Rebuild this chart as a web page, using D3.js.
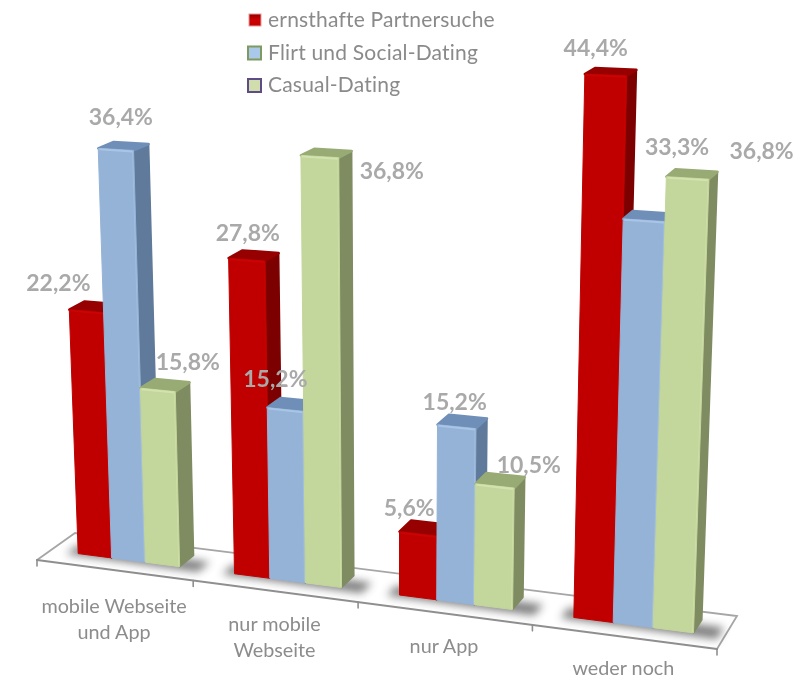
<!DOCTYPE html>
<html><head><meta charset="utf-8">
<script src="https://cdn.jsdelivr.net/npm/d3@7"></script>
<style>html,body{margin:0;padding:0;background:#fff}svg{display:block;filter:blur(.35px)}text{font-family:Lato,"Open Sans",sans-serif}</style>
</head><body><div id="c"></div>
<script>
const categories = [["mobile Webseite","und App"],["nur mobile","Webseite"],["nur App"],["weder noch"]];
const seriesNames = ["ernsthafte Partnersuche","Flirt und Social-Dating","Casual-Dating"];
const partnersuche = [22.2,27.8,5.6,44.4];
const flirt = [36.4,15.2,15.2,33.3];
const casual = [15.8,36.8,10.5,36.8];
const seriesValues = [partnersuche,flirt,casual];

// label nudges relative to each bar's top (as placed in the source chart)
const labelNudge = [
 [[-28,-28],[5,-32],[30,-28]],
 [[1,-27],[-10,-30],[72,14]],
 [[-9,-26],[-2,-25],[34,-21]],
 [[-10,-27],[33,-73],[74,-27]]
];
const categoryNudge = [3,0,0,-2];
const style = [
 {front:"#c00000",side:"#7d0000",top:"#960000",hi:"#c80404",legend:"#c00000",legendBorder:"#e59a9a"},
 {front:"#95b3d7",side:"#5f7a9a",top:"#6f8fb8",hi:"#a9c5e6",legend:"#a9c8ea",legendBorder:"#7f9a5f"},
 {front:"#c3d69b",side:"#7f8c62",top:"#98ab74",hi:"#d3e2ae",legend:"#cfdeac",legendBorder:"#5f4b85"}
];

const W=808,H=680;
const svg=d3.select("#c").append("svg").attr("width",W).attr("height",H);
const defs=svg.append("defs");
defs.append("filter").attr("id","blur").attr("x","-30%").attr("y","-60%").attr("width","160%").attr("height","220%")
  .append("feGaussianBlur").attr("stdDeviation",4.5);
const lg=defs.append("linearGradient").attr("id","lred").attr("x1",0).attr("y1",0).attr("x2",0).attr("y2",1);
lg.append("stop").attr("offset",0).attr("stop-color","#8f0000");
lg.append("stop").attr("offset",.5).attr("stop-color","#d00000");
lg.append("stop").attr("offset",1).attr("stop-color","#c00000");

// floor homography from the four projected corners of the plane
const p0=[37,560],p1=[717,649],p2=[737,616],p3=[75,533];
const dx1=p1[0]-p2[0],dx2=p3[0]-p2[0],sx=p0[0]-p1[0]+p2[0]-p3[0];
const dy1=p1[1]-p2[1],dy2=p3[1]-p2[1],sy=p0[1]-p1[1]+p2[1]-p3[1];
const det=dx1*dy2-dx2*dy1;
const hg=(sx*dy2-dx2*sy)/det,hh=(dx1*sy-sx*dy1)/det;
const A=p1[0]-p0[0]+hg*p1[0],B=p3[0]-p0[0]+hh*p3[0],C=p0[0];
const D=p1[1]-p0[1]+hg*p1[1],E=p3[1]-p0[1]+hh*p3[1],F=p0[1];
const vp=[398,9300];

const xCat=d3.scaleBand().domain(d3.range(categories.length)).range([0,1]);
const xSer=d3.scaleBand().domain(d3.range(seriesNames.length)).range([.18/4,.835/4]);
const yVal=d3.scaleLinear().domain([0,50]).range([0,.0615]);
const depth=d3.scaleLinear().domain([0,1]).range([.36,.76]);

function proj(s,t,v){
  const q=yVal(v||0);
  const X=A*s+B*t+C,Y=D*s+E*t+F,Wh=hg*s+hh*t+1;
  return [(X-q*vp[0])/(Wh-q),(Y-q*vp[1])/(Wh-q)];
}
const poly=d3.line();
const closed=pts=>poly(pts)+"Z";

// floor
svg.append("path").attr("d",closed([proj(0,0),proj(1,0),proj(1,1),proj(0,1)])).attr("fill","#fff").attr("stroke","none");
const floorG=svg.append("g").attr("fill","none").attr("stroke-linecap","round");
floorG.append("path").attr("d",poly([proj(0,0),proj(0,1),proj(1,1),proj(1,0)])).attr("stroke","#a6a6a6").attr("stroke-width",1.8);
floorG.append("path").attr("d",poly([proj(0,0),proj(1,0)])).attr("stroke","#8f8f8f").attr("stroke-width",2);
d3.range(categories.length+1).forEach(i=>{
  const s=i<categories.length?xCat(i):1;
  const p=proj(s,0);
  floorG.append("line").attr("x1",p[0]).attr("y1",p[1]).attr("x2",p[0]).attr("y2",p[1]+6).attr("stroke","#8f8f8f").attr("stroke-width",1.6);
});

// floor shadows
categories.forEach((c,i)=>{
  const a=xCat(i)+.115/4,b=xCat(i)+.97/4;
  svg.append("path").attr("d",closed([proj(a,.3),proj(b,.27),proj(b,.62),proj(a,.62)]))
    .attr("fill","#4a4a4a").attr("opacity",.7).attr("filter","url(#blur)");
});

// bars
const bars=svg.append("g");
categories.forEach((c,i)=>{
  seriesNames.forEach((n,j)=>{
    const v=seriesValues[j][i],st=style[j];
    const s0=xCat(i)+xSer(j),s1=s0+xSer.bandwidth();
    const t0=depth(0),t1=depth(1);
    const fl0=proj(s0,t0,0),fr0=proj(s1,t0,0),br0=proj(s1,t1,0);
    const flv=proj(s0,t0,v),frv=proj(s1,t0,v),brv=proj(s1,t1,v),blv=proj(s0,t1,v);
    const g=bars.append("g").attr("stroke-linejoin","round");
    g.append("path").attr("d",closed([fr0,br0,brv,frv])).attr("fill",st.side).attr("stroke",st.side).attr("stroke-width",1.5);
    g.append("path").attr("d",closed([flv,frv,brv,blv])).attr("fill",st.top).attr("stroke",st.top).attr("stroke-width",2.5);
    g.append("path").attr("d",closed([fl0,fr0,frv,flv])).attr("fill",st.front).attr("stroke",st.front).attr("stroke-width",1);
    g.append("path").attr("d",poly([[flv[0]+1,flv[1]+1],[frv[0]-1,frv[1]+1]])).attr("fill","none").attr("stroke",st.hi).attr("stroke-width",2);
    g.append("path").attr("d",poly([[frv[0]-1,frv[1]+1],[fr0[0]-1,fr0[1]-1]])).attr("fill","none").attr("stroke",st.hi).attr("stroke-width",1).attr("opacity",.6);
  });
});

// value labels
const fmt=v=>d3.format(".1f")(v).replace(".",",")+"%";
categories.forEach((c,i)=>{
  seriesNames.forEach((n,j)=>{
    const v=seriesValues[j][i];
    const s0=xCat(i)+xSer(j),sm=s0+xSer.bandwidth()/2;
    const p=proj(sm,depth(0),v),nu=labelNudge[i][j];
    svg.append("text").attr("x",p[0]+nu[0]).attr("y",p[1]+nu[1]+8).attr("text-anchor","middle")
      .attr("font-size",23).attr("font-weight",700).attr("fill","#a9a9a9").text(fmt(v));
  });
});

// category labels
categories.forEach((lines,i)=>{
  const p=proj(xCat(i)+xCat.bandwidth()/2,0);
  lines.forEach((t,k)=>{
    svg.append("text").attr("x",p[0]).attr("y",p[1]+40+categoryNudge[i]+k*26).attr("text-anchor","middle")
      .attr("font-size",19.8).attr("fill","#8c8c8c").text(t);
  });
});

// legend
const legendY=d3.scalePoint().domain(seriesNames).range([20,85]);
seriesNames.forEach((n,j)=>{
  const y=legendY(n),st=style[j];
  svg.append("rect").attr("x",j?248:249).attr("y",y-6).attr("width",j?13:12).attr("height",j?13:12)
    .attr("fill",j?st.legend:"url(#lred)").attr("stroke",st.legendBorder).attr("stroke-width",j?2:1);
  svg.append("text").attr("x",268).attr("y",y+7).attr("font-size",21).attr("fill","#8a8a8a").attr("letter-spacing",.2).text(n);
});
</script></body></html>
